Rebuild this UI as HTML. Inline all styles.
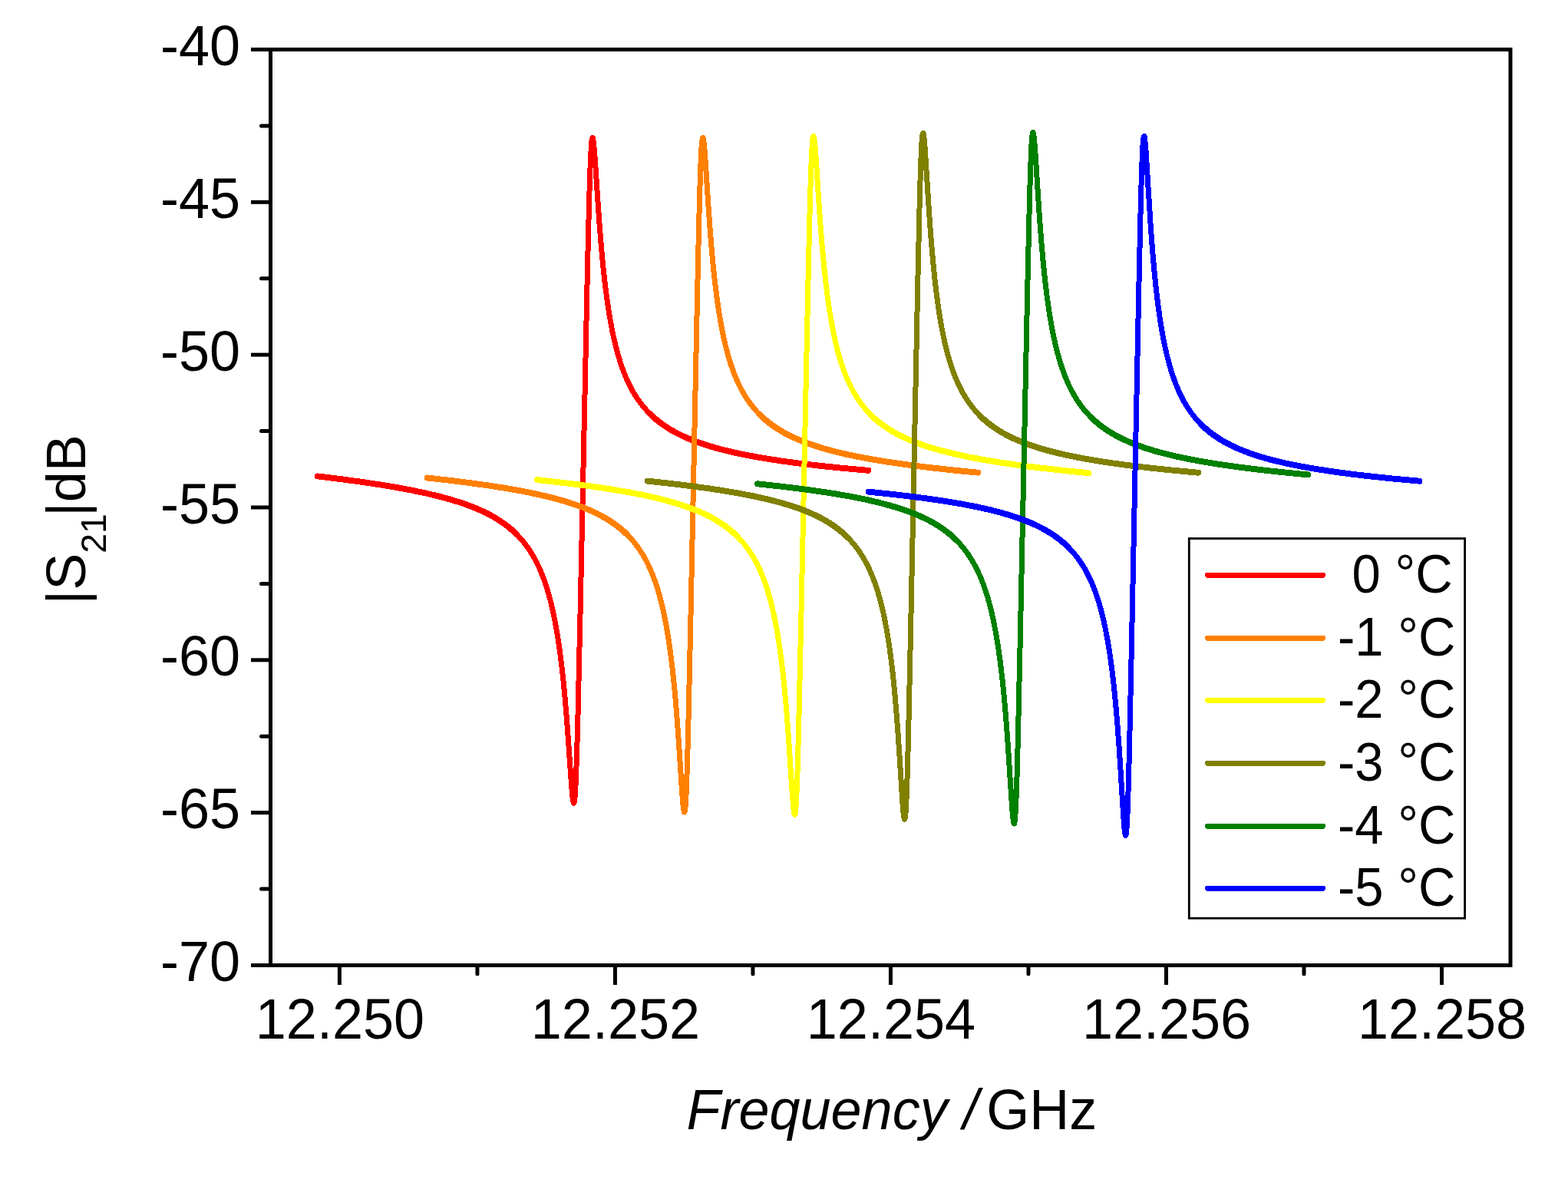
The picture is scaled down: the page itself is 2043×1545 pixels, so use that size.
<!DOCTYPE html>
<html><head><meta charset="utf-8"><title>S21 vs Frequency</title>
<style>html,body{margin:0;padding:0;background:#fff;overflow:hidden}svg{display:block}</style>
</head><body>
<svg width="2043" height="1545" viewBox="0 0 2043 1545">
<rect x="0" y="0" width="2043" height="1545" fill="#fff"/>
<g fill="none" stroke="#ff0000" stroke-linecap="round" stroke-linejoin="round" shape-rendering="crispEdges"><path d="M413.70,620.40 L445.54,624.33 L474.24,628.25 L500.16,632.19 L523.64,636.21 L544.96,640.37 L564.30,644.69 L573.30,646.93 L581.88,649.23 L590.06,651.59 L597.86,654.03 L605.32,656.54 L612.42,659.13 L619.20,661.82 L625.68,664.60 L631.86,667.49 L637.74,670.47 L643.36,673.58 L648.72,676.81 L653.82,680.15 L658.70,683.64 L663.36,687.28 L667.80,691.07 L672.04,695.02 L676.08,699.14 L679.94,703.44 L683.62,707.92 L687.04,712.47 L690.30,717.22 L693.42,722.17 L696.40,727.34 L699.26,732.76 L701.98,738.40 L704.58,744.28 L707.06,750.42 L709.44,756.86 L711.72,763.60 L713.90,770.65 L715.98,778.01 L717.98,785.74 L719.88,793.77 L723.44,810.96 L726.34,827.49 L729.02,845.31 L731.52,864.66 L733.88,885.85 L736.18,909.77 L738.42,936.56 L740.42,963.46 L743.92,1013.96 L745.18,1030.14 L745.92,1037.84 L746.60,1043.08 L747.22,1045.85 L747.52,1046.36 L747.80,1046.29 L748.12,1045.53 L748.44,1043.98 L749.06,1038.60 L749.66,1030.26 L750.28,1018.35 L751.56,983.83 L752.98,932.80 L756.02,799.10 L764.94,374.37 L766.44,308.32 L767.68,259.91 L768.82,223.45 L769.88,198.78 L770.40,190.35 L770.94,184.21 L771.48,180.66 L771.74,179.81 L772.02,179.50 L772.28,179.72 L772.56,180.48 L773.14,183.59 L773.76,188.83 L774.46,196.57 L775.66,212.76 L779.08,264.42 L781.06,292.25 L783.28,319.94 L785.58,344.80 L788.02,367.43 L790.62,388.03 L793.42,406.92 L796.46,424.35 L798.26,433.43 L800.16,442.17 L802.14,450.47 L804.22,458.42 L806.38,465.94 L808.66,473.18 L811.04,480.07 L813.54,486.66 L816.14,492.92 L818.88,498.92 L821.76,504.68 L824.76,510.15 L827.92,515.40 L831.22,520.40 L834.68,525.19 L838.32,529.79 L842.26,534.32 L846.38,538.63 L850.72,542.77 L855.28,546.73 L860.06,550.52 L865.08,554.14 L870.34,557.60 L875.88,560.93 L881.68,564.11 L887.78,567.17 L894.18,570.10 L900.90,572.92 L907.96,575.63 L915.36,578.23 L923.12,580.73 L931.28,583.15 L939.86,585.48 L948.88,587.73 L958.32,589.90 L968.24,592.00 L989.54,596.00 L1012.94,599.75 L1038.66,603.29 L1066.84,606.64 L1097.68,609.82 L1131.30,612.84" stroke-width="7"/><path d="M413.70,620.40 L442.98,624.00 L469.58,627.58 L493.82,631.18 L515.96,634.84 L536.20,638.60 L554.72,642.48 L571.68,646.52 L587.22,650.75 L601.50,655.23 L608.20,657.57 L614.60,659.97 L620.72,662.45 L626.60,665.02 L632.22,667.66 L637.60,670.40 L642.76,673.23 L647.70,676.17 L652.42,679.20 L656.96,682.36 L661.30,685.63 L665.46,689.03 L669.44,692.56 L673.26,696.22" stroke-width="7.9"/><path d="M846.34,538.59 L850.40,542.48 L854.66,546.22 L859.10,549.79 L863.76,553.22 L868.64,556.52 L873.74,559.68 L879.08,562.72 L884.66,565.64 L890.52,568.46 L896.64,571.17 L903.04,573.77 L909.74,576.28 L916.76,578.70 L924.10,581.03 L931.78,583.29 L939.82,585.47 L957.08,589.63 L975.96,593.52 L996.60,597.19 L1019.12,600.65 L1043.74,603.93 L1070.54,607.04 L1099.68,610.01 L1131.30,612.84" stroke-width="7.9"/></g>
<g fill="none" stroke="#ff8000" stroke-linecap="round" stroke-linejoin="round" shape-rendering="crispEdges"><path d="M556.80,622.47 L588.58,626.10 L617.40,629.77 L643.54,633.54 L667.26,637.42 L688.82,641.47 L708.40,645.72 L717.50,647.93 L726.18,650.21 L734.46,652.56 L742.34,654.98 L749.86,657.49 L757.04,660.09 L763.88,662.78 L770.40,665.57 L776.62,668.46 L782.54,671.47 L788.20,674.60 L793.58,677.85 L798.72,681.25 L803.62,684.78 L808.28,688.46 L812.74,692.31 L816.98,696.31 L821.02,700.49 L824.88,704.86 L828.56,709.43 L831.96,714.05 L835.22,718.90 L838.34,723.97 L841.30,729.23 L844.14,734.76 L846.84,740.51 L849.42,746.52 L851.90,752.85 L854.26,759.44 L856.50,766.28 L858.66,773.51 L860.72,781.06 L862.70,789.00 L864.58,797.26 L868.10,814.97 L870.96,832.00 L873.62,850.55 L876.08,870.58 L878.40,892.57 L880.66,917.46 L882.84,945.16 L884.78,972.92 L888.16,1024.91 L889.38,1041.58 L890.08,1049.33 L890.72,1054.60 L891.32,1057.50 L891.60,1058.04 L891.88,1058.00 L892.18,1057.27 L892.48,1055.79 L893.08,1050.41 L893.66,1042.02 L894.24,1030.45 L895.44,997.07 L896.80,946.78 L899.58,821.46 L908.60,382.76 L910.16,312.40 L911.42,261.94 L912.56,224.49 L913.62,199.12 L914.14,190.45 L914.68,184.16 L915.22,180.52 L915.48,179.67 L915.76,179.36 L916.02,179.61 L916.30,180.41 L916.86,183.50 L917.48,188.85 L918.16,196.51 L919.34,212.69 L922.72,264.59 L924.66,292.29 L926.86,320.16 L929.14,345.17 L931.56,367.93 L934.14,388.64 L936.92,407.63 L939.92,425.04 L941.70,434.13 L943.58,442.88 L945.54,451.20 L947.60,459.17 L949.76,466.78 L952.02,474.03 L954.38,480.93 L956.86,487.54 L959.46,493.86 L962.18,499.88 L965.04,505.65 L968.02,511.13 L971.16,516.40 L974.44,521.42 L977.88,526.22 L981.48,530.80 L985.38,535.33 L989.48,539.67 L993.78,543.81 L998.28,547.76 L1003.02,551.55 L1008.00,555.19 L1013.22,558.67 L1018.70,562.00 L1024.46,565.20 L1030.50,568.27 L1036.86,571.23 L1043.52,574.07 L1050.52,576.80 L1057.86,579.43 L1065.58,581.97 L1073.68,584.42 L1082.18,586.78 L1091.12,589.07 L1100.50,591.29 L1110.34,593.44 L1131.52,597.57 L1154.86,601.48 L1180.56,605.22 L1208.86,608.81 L1239.98,612.30 L1274.20,615.70" stroke-width="7"/><path d="M556.80,622.47 L585.86,625.77 L612.44,629.11 L636.76,632.51 L659.02,636.01 L679.42,639.63 L698.10,643.41 L715.22,647.36 L730.92,651.53 L745.32,655.95 L752.06,658.26 L758.50,660.64 L764.68,663.11 L770.60,665.65 L776.26,668.29 L781.68,671.02 L786.88,673.85 L791.84,676.77 L796.60,679.81 L801.16,682.97 L805.52,686.24 L809.70,689.65 L813.70,693.18 L817.52,696.85" stroke-width="7.9"/><path d="M989.88,540.07 L993.90,543.92 L998.12,547.62 L1002.54,551.18 L1007.16,554.60 L1012.00,557.88 L1017.06,561.03 L1022.36,564.07 L1027.90,566.98 L1033.70,569.79 L1039.78,572.51 L1046.14,575.12 L1052.78,577.63 L1059.74,580.07 L1067.02,582.42 L1074.64,584.69 L1082.62,586.90 L1099.72,591.12 L1118.44,595.09 L1138.94,598.87 L1161.38,602.48 L1185.94,605.94 L1212.78,609.28 L1242.14,612.52 L1274.20,615.70" stroke-width="7.9"/></g>
<g fill="none" stroke="#ffff00" stroke-linecap="round" stroke-linejoin="round" shape-rendering="crispEdges"><path d="M700.10,625.18 L731.68,628.65 L760.40,632.20 L786.50,635.86 L810.22,639.67 L831.80,643.66 L851.40,647.86 L860.52,650.05 L869.22,652.32 L877.52,654.65 L885.42,657.07 L892.96,659.57 L900.14,662.15 L907.00,664.84 L913.54,667.63 L919.78,670.53 L925.72,673.53 L931.40,676.67 L936.80,679.93 L941.96,683.33 L946.88,686.88 L951.56,690.57 L956.04,694.44 L960.30,698.46 L964.36,702.66 L968.24,707.05 L971.94,711.65 L975.36,716.29 L978.64,721.17 L981.76,726.24 L984.74,731.54 L987.58,737.06 L990.30,742.85 L992.90,748.91 L995.38,755.23 L997.76,761.87 L1000.02,768.77 L1002.18,775.99 L1004.26,783.60 L1006.24,791.53 L1008.14,799.87 L1011.68,817.64 L1014.56,834.75 L1017.22,853.23 L1019.70,873.34 L1022.04,895.43 L1024.30,920.19 L1026.50,947.98 L1028.46,975.86 L1031.88,1028.14 L1033.10,1044.72 L1033.82,1052.64 L1034.46,1057.88 L1035.06,1060.77 L1035.36,1061.34 L1035.64,1061.28 L1035.94,1060.55 L1036.24,1059.07 L1036.84,1053.74 L1037.42,1045.46 L1038.02,1033.61 L1039.24,999.92 L1040.62,949.29 L1043.46,822.49 L1052.66,380.18 L1054.22,310.49 L1055.48,260.42 L1056.64,222.53 L1057.72,196.88 L1058.24,188.31 L1058.78,182.07 L1059.32,178.46 L1059.58,177.60 L1059.86,177.29 L1060.12,177.53 L1060.40,178.31 L1060.98,181.50 L1061.60,186.86 L1062.28,194.51 L1063.48,210.95 L1066.86,262.81 L1068.82,290.79 L1071.04,318.90 L1073.32,343.91 L1075.74,366.70 L1078.34,387.60 L1081.12,406.63 L1084.14,424.20 L1085.94,433.41 L1087.82,442.18 L1089.80,450.61 L1091.86,458.59 L1094.02,466.22 L1096.28,473.50 L1098.64,480.43 L1101.12,487.07 L1103.72,493.42 L1106.44,499.47 L1109.30,505.28 L1112.30,510.83 L1115.44,516.13 L1118.72,521.17 L1122.16,526.01 L1125.78,530.65 L1129.68,535.21 L1133.78,539.57 L1138.08,543.74 L1142.58,547.72 L1147.32,551.54 L1152.28,555.19 L1157.50,558.70 L1162.98,562.06 L1168.72,565.27 L1174.76,568.37 L1181.10,571.35 L1187.76,574.21 L1194.74,576.96 L1202.08,579.61 L1209.78,582.16 L1217.86,584.63 L1226.34,587.01 L1235.26,589.32 L1244.60,591.55 L1254.42,593.71 L1275.54,597.87 L1298.82,601.81 L1324.48,605.59 L1352.74,609.22 L1383.88,612.76 L1418.20,616.23" stroke-width="7"/><path d="M700.10,625.18 L728.98,628.34 L755.46,631.56 L779.72,634.86 L801.98,638.29 L822.38,641.84 L841.08,645.57 L858.24,649.49 L873.96,653.63 L888.38,658.02 L895.14,660.33 L901.60,662.70 L907.80,665.17 L913.74,667.72 L919.42,670.35 L924.86,673.08 L930.08,675.92 L935.06,678.85 L939.84,681.90 L944.42,685.07 L948.80,688.36 L953.00,691.78 L957.02,695.33 L960.86,699.02" stroke-width="7.9"/><path d="M1134.50,540.30 L1138.52,544.15 L1142.74,547.86 L1147.16,551.42 L1151.78,554.84 L1156.62,558.13 L1161.68,561.29 L1166.96,564.32 L1172.50,567.24 L1178.30,570.06 L1184.36,572.78 L1190.70,575.39 L1197.34,577.92 L1204.28,580.36 L1211.54,582.72 L1219.14,585.00 L1227.10,587.21 L1244.14,591.44 L1262.78,595.43 L1283.20,599.23 L1305.56,602.85 L1330.02,606.34 L1356.80,609.71 L1386.12,613.00 L1418.20,616.23" stroke-width="7.9"/></g>
<g fill="none" stroke="#808000" stroke-linecap="round" stroke-linejoin="round" shape-rendering="crispEdges"><path d="M843.80,626.62 L875.74,630.15 L904.66,633.73 L930.86,637.41 L954.64,641.22 L976.22,645.21 L995.82,649.41 L1004.92,651.59 L1013.60,653.85 L1021.88,656.18 L1029.76,658.59 L1037.28,661.09 L1044.46,663.68 L1051.28,666.36 L1057.80,669.15 L1064.02,672.05 L1069.94,675.06 L1075.58,678.20 L1080.96,681.47 L1086.08,684.87 L1090.98,688.43 L1095.64,692.13 L1100.08,696.00 L1104.30,700.02 L1108.34,704.24 L1112.18,708.64 L1115.86,713.27 L1119.26,717.95 L1122.50,722.83 L1125.60,727.94 L1128.56,733.28 L1131.38,738.85 L1134.08,744.69 L1136.66,750.80 L1139.12,757.19 L1141.48,763.90 L1143.72,770.88 L1145.86,778.18 L1147.90,785.80 L1149.86,793.83 L1151.74,802.26 L1155.24,820.24 L1158.08,837.55 L1160.72,856.39 L1163.18,876.93 L1165.48,899.32 L1167.70,924.44 L1169.86,952.66 L1171.78,980.95 L1175.12,1033.89 L1176.32,1050.79 L1177.02,1058.75 L1177.64,1063.98 L1178.22,1066.87 L1178.50,1067.44 L1178.78,1067.41 L1179.08,1066.65 L1179.38,1065.11 L1179.96,1059.75 L1180.52,1051.49 L1181.10,1039.69 L1182.30,1005.58 L1183.64,955.06 L1186.40,828.88 L1195.62,375.91 L1198.36,256.64 L1199.50,218.42 L1200.54,193.04 L1201.04,184.53 L1201.56,178.29 L1202.08,174.64 L1202.34,173.74 L1202.62,173.40 L1202.88,173.66 L1203.14,174.41 L1203.70,177.58 L1204.30,182.93 L1204.98,190.86 L1211.38,288.63 L1213.56,317.20 L1215.80,342.57 L1218.20,365.87 L1220.76,387.04 L1223.52,406.43 L1226.50,424.19 L1228.28,433.52 L1230.14,442.39 L1232.10,450.91 L1234.14,458.98 L1236.28,466.69 L1238.52,474.04 L1240.88,481.10 L1243.34,487.79 L1245.92,494.18 L1248.64,500.32 L1251.48,506.16 L1254.46,511.74 L1257.58,517.06 L1260.86,522.16 L1264.28,527.01 L1267.88,531.66 L1271.78,536.25 L1275.86,540.61 L1280.16,544.80 L1284.66,548.79 L1289.40,552.61 L1294.36,556.26 L1299.58,559.76 L1305.06,563.11 L1310.82,566.32 L1316.86,569.40 L1323.22,572.35 L1329.88,575.18 L1336.88,577.91 L1344.24,580.53 L1351.96,583.05 L1360.08,585.48 L1368.60,587.82 L1377.56,590.08 L1386.96,592.26 L1396.84,594.38 L1418.08,598.41 L1441.48,602.20 L1467.26,605.81 L1495.64,609.24 L1526.84,612.54 L1561.10,615.72" stroke-width="7"/><path d="M843.80,626.62 L872.90,629.82 L899.50,633.06 L923.82,636.37 L946.08,639.79 L966.46,643.33 L985.12,647.04 L1002.22,650.93 L1017.90,655.04 L1032.28,659.41 L1039.02,661.70 L1045.46,664.06 L1051.64,666.51 L1057.54,669.03 L1063.20,671.65 L1068.60,674.36 L1073.78,677.17 L1078.74,680.08 L1083.50,683.12 L1088.04,686.25 L1092.40,689.52 L1096.58,692.92 L1100.58,696.46 L1104.40,700.12" stroke-width="7.9"/><path d="M1276.78,541.54 L1280.82,545.41 L1285.04,549.11 L1289.46,552.66 L1294.08,556.06 L1298.92,559.33 L1303.98,562.47 L1309.28,565.49 L1314.82,568.39 L1320.62,571.18 L1326.70,573.86 L1333.06,576.45 L1339.72,578.95 L1346.68,581.35 L1353.98,583.67 L1361.60,585.91 L1369.58,588.07 L1386.70,592.21 L1405.44,596.09 L1425.96,599.75 L1448.40,603.22 L1472.96,606.54 L1499.80,609.71 L1529.12,612.76 L1561.10,615.72" stroke-width="7.9"/></g>
<g fill="none" stroke="#008000" stroke-linecap="round" stroke-linejoin="round" shape-rendering="crispEdges"><path d="M987.00,630.30 L1018.54,633.75 L1047.18,637.28 L1073.20,640.93 L1096.84,644.73 L1118.34,648.72 L1137.88,652.94 L1146.98,655.14 L1155.64,657.42 L1163.90,659.77 L1171.78,662.20 L1179.30,664.72 L1186.46,667.33 L1193.30,670.04 L1199.82,672.86 L1206.04,675.79 L1211.96,678.83 L1217.62,682.00 L1223.00,685.30 L1228.14,688.74 L1233.04,692.33 L1237.70,696.07 L1242.16,699.98 L1246.40,704.05 L1250.46,708.32 L1254.32,712.77 L1258.02,717.45 L1261.42,722.15 L1264.68,727.09 L1267.78,732.22 L1270.76,737.61 L1273.60,743.24 L1276.32,749.14 L1278.90,755.26 L1281.38,761.71 L1283.74,768.42 L1286.00,775.45 L1288.16,782.82 L1290.22,790.50 L1292.20,798.59 L1294.08,807.00 L1297.62,825.12 L1300.48,842.46 L1303.14,861.32 L1305.62,881.87 L1307.94,904.25 L1310.20,929.57 L1312.38,957.74 L1314.34,986.29 L1317.72,1039.21 L1318.94,1056.20 L1319.66,1064.29 L1320.30,1069.62 L1320.90,1072.51 L1321.18,1073.04 L1321.46,1072.99 L1321.76,1072.23 L1322.06,1070.71 L1322.66,1065.25 L1323.24,1056.77 L1323.82,1045.11 L1325.04,1011.00 L1326.40,960.68 L1329.22,834.34 L1338.78,374.63 L1341.56,255.89 L1342.72,217.62 L1343.78,192.13 L1344.30,183.43 L1344.82,177.30 L1345.36,173.59 L1345.62,172.72 L1345.90,172.41 L1346.16,172.66 L1346.44,173.48 L1347.00,176.65 L1347.62,182.15 L1348.30,190.02 L1349.48,206.65 L1352.84,259.64 L1354.78,288.08 L1356.98,316.69 L1359.26,342.34 L1361.68,365.69 L1364.26,386.92 L1367.04,406.38 L1370.04,424.22 L1371.82,433.54 L1373.70,442.51 L1375.66,451.03 L1377.72,459.19 L1379.88,466.99 L1382.14,474.42 L1384.50,481.49 L1386.98,488.27 L1389.58,494.73 L1392.30,500.90 L1395.16,506.81 L1398.14,512.43 L1401.28,517.82 L1404.56,522.96 L1408.00,527.87 L1411.62,532.59 L1415.52,537.22 L1419.62,541.66 L1423.92,545.89 L1428.42,549.92 L1433.16,553.80 L1438.12,557.49 L1443.34,561.04 L1448.82,564.44 L1454.58,567.71 L1460.62,570.83 L1466.96,573.83 L1473.62,576.72 L1480.60,579.48 L1487.94,582.15 L1495.64,584.72 L1503.74,587.20 L1512.24,589.59 L1521.16,591.90 L1530.52,594.13 L1540.34,596.29 L1561.50,600.42 L1584.80,604.33 L1610.48,608.05 L1638.76,611.62 L1669.92,615.07 L1704.20,618.42" stroke-width="7"/><path d="M987.00,630.30 L1015.66,633.42 L1041.92,636.60 L1066.00,639.87 L1088.08,643.26 L1108.32,646.79 L1126.90,650.49 L1143.94,654.39 L1159.58,658.51 L1173.94,662.90 L1180.66,665.20 L1187.10,667.57 L1193.26,670.02 L1199.18,672.57 L1204.84,675.20 L1210.26,677.93 L1215.44,680.75 L1220.42,683.68 L1225.20,686.74 L1229.76,689.90 L1234.14,693.19 L1238.32,696.59 L1242.34,700.15 L1246.18,703.83" stroke-width="7.9"/><path d="M1421.02,543.08 L1425.06,546.95 L1429.28,550.65 L1433.70,554.22 L1438.34,557.65 L1443.18,560.94 L1448.24,564.10 L1453.54,567.14 L1459.08,570.06 L1464.88,572.88 L1470.94,575.59 L1477.30,578.21 L1483.94,580.73 L1490.88,583.16 L1498.14,585.51 L1505.74,587.78 L1513.70,589.98 L1530.72,594.17 L1549.36,598.13 L1569.74,601.87 L1592.04,605.43 L1616.44,608.84 L1643.12,612.13 L1672.30,615.31 L1704.20,618.42" stroke-width="7.9"/></g>
<g fill="none" stroke="#0000ff" stroke-linecap="round" stroke-linejoin="round" shape-rendering="crispEdges"><path d="M1131.90,640.66 L1163.82,644.02 L1192.76,647.46 L1219.00,651.02 L1242.82,654.74 L1264.44,658.66 L1284.08,662.80 L1293.20,664.97 L1301.90,667.21 L1310.18,669.53 L1318.08,671.93 L1325.60,674.42 L1332.78,677.01 L1339.62,679.70 L1346.14,682.49 L1352.36,685.41 L1358.28,688.43 L1363.92,691.59 L1369.30,694.88 L1374.42,698.31 L1379.30,701.89 L1383.96,705.63 L1388.40,709.54 L1392.62,713.61 L1396.66,717.89 L1400.52,722.37 L1404.18,727.04 L1407.58,731.80 L1410.82,736.76 L1413.92,741.96 L1416.86,747.36 L1419.68,753.04 L1422.36,758.95 L1424.92,765.13 L1427.38,771.65 L1429.72,778.44 L1431.96,785.57 L1434.10,793.03 L1436.14,800.83 L1438.10,809.05 L1439.96,817.60 L1443.44,835.94 L1446.28,853.72 L1448.90,872.96 L1451.34,893.94 L1453.62,916.83 L1455.82,942.54 L1457.96,971.44 L1459.86,1000.41 L1463.14,1054.20 L1464.30,1071.11 L1465.00,1079.36 L1465.62,1084.75 L1466.20,1087.68 L1466.48,1088.22 L1466.74,1088.15 L1467.04,1087.34 L1467.32,1085.84 L1467.88,1080.56 L1468.44,1072.12 L1469.00,1060.50 L1470.18,1026.38 L1471.50,975.87 L1474.20,851.06 L1483.72,379.87 L1486.42,260.84 L1487.54,222.62 L1488.56,197.18 L1489.06,188.47 L1489.58,182.11 L1490.10,178.44 L1490.36,177.56 L1490.62,177.29 L1490.88,177.57 L1491.14,178.38 L1491.70,181.72 L1492.94,195.09 L1499.24,294.51 L1501.40,323.71 L1503.62,349.62 L1506.00,373.40 L1508.54,395.00 L1511.28,414.77 L1514.26,432.99 L1516.02,442.43 L1517.88,451.52 L1519.82,460.15 L1521.86,468.40 L1523.98,476.21 L1526.22,483.73 L1528.56,490.87 L1531.02,497.70 L1533.60,504.22 L1536.30,510.43 L1539.14,516.38 L1542.10,522.02 L1545.22,527.44 L1548.48,532.60 L1551.92,537.55 L1555.52,542.27 L1559.40,546.91 L1563.48,551.33 L1567.76,555.56 L1572.26,559.60 L1576.98,563.46 L1581.94,567.15 L1587.16,570.68 L1592.64,574.06 L1598.40,577.31 L1604.44,580.41 L1610.80,583.38 L1617.46,586.23 L1624.46,588.97 L1631.82,591.60 L1639.54,594.13 L1647.66,596.56 L1656.18,598.91 L1665.14,601.17 L1674.56,603.36 L1684.44,605.47 L1705.72,609.49 L1729.18,613.27 L1755.06,616.85 L1783.56,620.27 L1814.96,623.54 L1849.50,626.70" stroke-width="7"/><path d="M1131.90,640.66 L1160.84,643.69 L1187.34,646.78 L1211.58,649.97 L1233.80,653.27 L1254.16,656.72 L1272.82,660.35 L1289.92,664.17 L1305.58,668.22 L1319.96,672.54 L1326.70,674.81 L1333.14,677.15 L1339.32,679.58 L1345.22,682.08 L1350.88,684.69 L1356.30,687.39 L1361.50,690.20 L1366.46,693.11 L1371.22,696.13 L1375.76,699.26 L1380.12,702.52 L1384.30,705.92 L1388.30,709.45 L1392.14,713.13" stroke-width="7.9"/><path d="M1565.00,552.88 L1569.04,556.75 L1573.26,560.45 L1577.68,564.00 L1582.30,567.40 L1587.14,570.67 L1592.20,573.80 L1597.50,576.82 L1603.04,579.71 L1608.84,582.49 L1614.92,585.18 L1621.28,587.76 L1627.92,590.24 L1634.88,592.63 L1642.18,594.94 L1649.80,597.17 L1657.78,599.33 L1674.88,603.43 L1693.62,607.28 L1714.12,610.91 L1736.56,614.35 L1761.12,617.62 L1788.00,620.76 L1817.38,623.78 L1849.50,626.70" stroke-width="7.9"/></g>
<rect x="352.5" y="64.5" width="1615.5" height="1193.0" fill="none" stroke="#000" stroke-width="5"/>
<line x1="327" y1="64.50" x2="352.5" y2="64.50" stroke="#000" stroke-width="5"/>
<line x1="340.5" y1="163.92" x2="352.5" y2="163.92" stroke="#000" stroke-width="5" stroke-linecap="round"/>
<line x1="327" y1="263.33" x2="352.5" y2="263.33" stroke="#000" stroke-width="5"/>
<line x1="340.5" y1="362.75" x2="352.5" y2="362.75" stroke="#000" stroke-width="5" stroke-linecap="round"/>
<line x1="327" y1="462.17" x2="352.5" y2="462.17" stroke="#000" stroke-width="5"/>
<line x1="340.5" y1="561.58" x2="352.5" y2="561.58" stroke="#000" stroke-width="5" stroke-linecap="round"/>
<line x1="327" y1="661.00" x2="352.5" y2="661.00" stroke="#000" stroke-width="5"/>
<line x1="340.5" y1="760.42" x2="352.5" y2="760.42" stroke="#000" stroke-width="5" stroke-linecap="round"/>
<line x1="327" y1="859.83" x2="352.5" y2="859.83" stroke="#000" stroke-width="5"/>
<line x1="340.5" y1="959.25" x2="352.5" y2="959.25" stroke="#000" stroke-width="5" stroke-linecap="round"/>
<line x1="327" y1="1058.67" x2="352.5" y2="1058.67" stroke="#000" stroke-width="5"/>
<line x1="340.5" y1="1158.08" x2="352.5" y2="1158.08" stroke="#000" stroke-width="5" stroke-linecap="round"/>
<line x1="327" y1="1257.50" x2="352.5" y2="1257.50" stroke="#000" stroke-width="5"/>
<line x1="442.40" y1="1257.5" x2="442.40" y2="1283" stroke="#000" stroke-width="5"/>
<line x1="621.91" y1="1257.5" x2="621.91" y2="1268.7" stroke="#000" stroke-width="5" stroke-linecap="round"/>
<line x1="801.43" y1="1257.5" x2="801.43" y2="1283" stroke="#000" stroke-width="5"/>
<line x1="980.94" y1="1257.5" x2="980.94" y2="1268.7" stroke="#000" stroke-width="5" stroke-linecap="round"/>
<line x1="1160.45" y1="1257.5" x2="1160.45" y2="1283" stroke="#000" stroke-width="5"/>
<line x1="1339.96" y1="1257.5" x2="1339.96" y2="1268.7" stroke="#000" stroke-width="5" stroke-linecap="round"/>
<line x1="1519.48" y1="1257.5" x2="1519.48" y2="1283" stroke="#000" stroke-width="5"/>
<line x1="1698.99" y1="1257.5" x2="1698.99" y2="1268.7" stroke="#000" stroke-width="5" stroke-linecap="round"/>
<line x1="1878.50" y1="1257.5" x2="1878.50" y2="1283" stroke="#000" stroke-width="5"/>
<g font-family="&quot;Liberation Sans&quot;, sans-serif" font-size="72" fill="#000">
<text transform="translate(313,85.0) scale(1,1.02)" text-anchor="end">-40</text>
<text transform="translate(313,283.8) scale(1,1.02)" text-anchor="end">-45</text>
<text transform="translate(313,482.7) scale(1,1.02)" text-anchor="end">-50</text>
<text transform="translate(313,681.5) scale(1,1.02)" text-anchor="end">-55</text>
<text transform="translate(313,880.3) scale(1,1.02)" text-anchor="end">-60</text>
<text transform="translate(313,1079.2) scale(1,1.02)" text-anchor="end">-65</text>
<text transform="translate(313,1278.0) scale(1,1.02)" text-anchor="end">-70</text>
<text transform="translate(442.9,1353) scale(1,1.02)" text-anchor="middle">12.250</text>
<text transform="translate(801.9,1353) scale(1,1.02)" text-anchor="middle">12.252</text>
<text transform="translate(1160.9,1353) scale(1,1.02)" text-anchor="middle">12.254</text>
<text transform="translate(1520.0,1353) scale(1,1.02)" text-anchor="middle">12.256</text>
<text transform="translate(1879.0,1353) scale(1,1.02)" text-anchor="middle">12.258</text>
</g>
<text transform="translate(894.5,1470.8) scale(1,1.02)" font-family="&quot;Liberation Sans&quot;, sans-serif" font-size="72" fill="#000"><tspan font-style="italic">Frequency /</tspan><tspan dx="10.5">GHz</tspan></text>
<text transform="translate(110.5,787.5) rotate(-90)" x="0" y="0" font-family="&quot;Liberation Sans&quot;, sans-serif" font-size="72" fill="#000">|S<tspan font-size="46.5" dy="27.5">21</tspan><tspan dx="-3.9" dy="-27.5">|dB</tspan></text>
<rect x="1549.3" y="701.5" width="359.3" height="494.7" fill="#fff" stroke="#000" stroke-width="2.8"/>
<line x1="1573.5" y1="749.4" x2="1723.5" y2="749.4" stroke="#ff0000" stroke-width="7" stroke-linecap="round" shape-rendering="crispEdges"/>
<text transform="translate(1743,771.9) scale(1,1.04)" x="0" y="0" font-family="&quot;Liberation Sans&quot;, sans-serif" font-size="67" fill="#000" xml:space="preserve" style="white-space:pre"> 0 °C</text>
<line x1="1573.5" y1="831.4" x2="1723.5" y2="831.4" stroke="#ff8000" stroke-width="7" stroke-linecap="round" shape-rendering="crispEdges"/>
<text transform="translate(1743,853.9) scale(1,1.04)" x="0" y="0" font-family="&quot;Liberation Sans&quot;, sans-serif" font-size="67" fill="#000" xml:space="preserve" style="white-space:pre">-1 °C</text>
<line x1="1573.5" y1="912.3" x2="1723.5" y2="912.3" stroke="#ffff00" stroke-width="7" stroke-linecap="round" shape-rendering="crispEdges"/>
<text transform="translate(1743,934.8) scale(1,1.04)" x="0" y="0" font-family="&quot;Liberation Sans&quot;, sans-serif" font-size="67" fill="#000" xml:space="preserve" style="white-space:pre">-2 °C</text>
<line x1="1573.5" y1="994.4" x2="1723.5" y2="994.4" stroke="#808000" stroke-width="7" stroke-linecap="round" shape-rendering="crispEdges"/>
<text transform="translate(1743,1016.9) scale(1,1.04)" x="0" y="0" font-family="&quot;Liberation Sans&quot;, sans-serif" font-size="67" fill="#000" xml:space="preserve" style="white-space:pre">-3 °C</text>
<line x1="1573.5" y1="1076.3" x2="1723.5" y2="1076.3" stroke="#008000" stroke-width="7" stroke-linecap="round" shape-rendering="crispEdges"/>
<text transform="translate(1743,1098.8) scale(1,1.04)" x="0" y="0" font-family="&quot;Liberation Sans&quot;, sans-serif" font-size="67" fill="#000" xml:space="preserve" style="white-space:pre">-4 °C</text>
<line x1="1573.5" y1="1157.4" x2="1723.5" y2="1157.4" stroke="#0000ff" stroke-width="7" stroke-linecap="round" shape-rendering="crispEdges"/>
<text transform="translate(1743,1179.9) scale(1,1.04)" x="0" y="0" font-family="&quot;Liberation Sans&quot;, sans-serif" font-size="67" fill="#000" xml:space="preserve" style="white-space:pre">-5 °C</text>
</svg>
</body></html>
